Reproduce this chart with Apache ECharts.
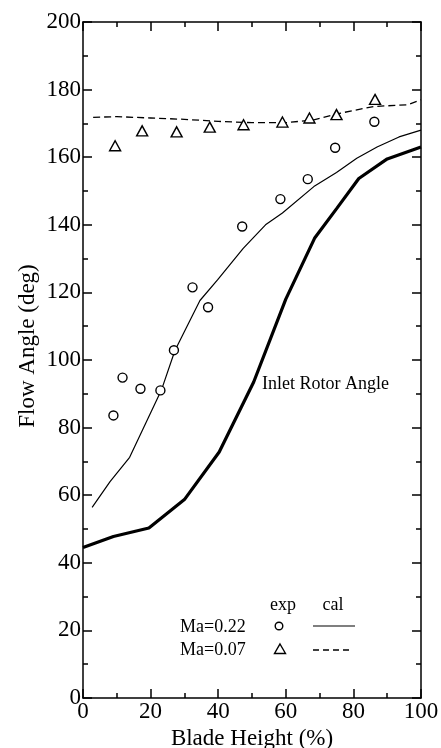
<!DOCTYPE html>
<html><head><meta charset="utf-8">
<script src="https://cdn.jsdelivr.net/npm/echarts@6/dist/echarts.min.js"></script>
<style>html,body{margin:0;padding:0;background:#fff}#c{width:441px;height:748px}</style>
</head><body><div id="c"></div>
<script>
const FONT = 'Liberation Serif';
const xMin = 0, xMax = 100, xStep = 20;
const yMin = 0, yMax = 200, yStep = 20;
const xTitle = 'Blade Height (%)';
const yTitle = 'Flow Angle (deg)';
// experimental points [blade height %, flow angle deg]
const expMa022 = [[9,83.6],[11.7,94.8],[17,91.5],[22.9,91],[26.9,102.9],[32.4,121.5],[37,115.6],[47.1,139.5],[58.4,147.6],[66.5,153.5],[74.6,162.8],[86.2,170.5]];
const expMa007 = [[9.5,163.4],[17.5,167.8],[27.7,167.5],[37.5,168.9],[47.5,169.6],[59,170.4],[67,171.6],[75,172.6],[86.4,177.1]];
// calculated curves
const calMa022 = [[2.7,56.4],[8,64],[13.8,71.2],[23.2,91.1],[27.2,102.8],[34.6,117.6],[39.8,123.7],[47.4,133],[54,140],[59,143.5],[68.3,151.3],[75,155.5],[81,159.7],[87,163],[93.5,166],[100,168]];
const calMa007 = [[3,171.8],[10,172],[20,171.6],[30,171.2],[40,170.6],[50,170.2],[60,170.2],[68,171],[76,173],[86,175],[96,175.5],[100,177]];
const inletRotorAngle = [[0,44.5],[9,47.8],[19.5,50.3],[30,58.7],[40.3,72.8],[50.5,93.5],[60,118],[68.5,136],[75.2,145],[81.6,153.7],[90,159.5],[100,163]];
const curveLabel = 'Inlet Rotor Angle';
const legendRows = ['Ma=0.22','Ma=0.07'];
const legendCols = ['exp','cal'];

const axisCommon = {
  type:'value', splitLine:{show:false},
  axisLine:{show:true, onZero:false, lineStyle:{color:'#000', width:1.5}},
  axisTick:{show:true, inside:true, length:9, lineStyle:{color:'#000', width:1.5}},
  minorTick:{show:true, splitNumber:2, length:5, lineStyle:{color:'#000', width:1.5}},
  minorSplitLine:{show:false}
};
const labelStyle = {color:'#000', fontFamily:FONT, fontSize:23};
const chart = echarts.init(document.getElementById('c'));
chart.setOption({
  animation:false,
  backgroundColor:'#fff',
  grid:{left:83, right:20, top:22, bottom:50, containLabel:false, outerBoundsMode:'none'},
  xAxis:[
    Object.assign({}, axisCommon, {min:xMin, max:xMax, interval:xStep, position:'bottom',
      axisLabel:Object.assign({margin:2}, labelStyle),
      name:xTitle, nameLocation:'middle', nameGap:28, nameTextStyle:Object.assign({}, labelStyle)}),
    Object.assign({}, axisCommon, {min:xMin, max:xMax, interval:xStep, position:'top', axisLabel:{show:false}})
  ],
  yAxis:[
    Object.assign({}, axisCommon, {min:yMin, max:yMax, interval:yStep, position:'left',
      axisLabel:Object.assign({margin:2}, labelStyle)}),
    Object.assign({}, axisCommon, {min:yMin, max:yMax, interval:yStep, position:'right', axisLabel:{show:false}})
  ],
  series:[
    {type:'line', data:inletRotorAngle, showSymbol:false, symbol:'none', lineStyle:{color:'#000', width:3.2}, z:2},
    {type:'line', data:calMa022, showSymbol:false, symbol:'none', lineStyle:{color:'#000', width:1.2}, z:2},
    {type:'line', data:calMa007, showSymbol:false, symbol:'none', lineStyle:{color:'#000', width:1.3, type:[7,4]}, z:2},
    {type:'scatter', data:expMa022, symbol:'circle', symbolSize:9, itemStyle:{color:'#fff', borderColor:'#000', borderWidth:1.4, opacity:1}, z:5},
    {type:'scatter', data:expMa007, symbol:'triangle', symbolSize:[11,10], itemStyle:{color:'#fff', borderColor:'#000', borderWidth:1.4, opacity:1}, z:5}
  ],
  graphic:[
    {type:'text', x:28, y:346, rotation:Math.PI/2, style:{text:yTitle, fontFamily:FONT, fontSize:23, fill:'#000', align:'center', verticalAlign:'middle'}},
    {type:'text', x:262, y:384, style:{text:curveLabel, fontFamily:FONT, fontSize:18, fill:'#000', align:'left', verticalAlign:'middle'}},
    {type:'text', x:283, y:605, style:{text:legendCols[0], fontFamily:FONT, fontSize:18, fill:'#000', align:'center', verticalAlign:'middle'}},
    {type:'text', x:333, y:605, style:{text:legendCols[1], fontFamily:FONT, fontSize:18, fill:'#000', align:'center', verticalAlign:'middle'}},
    {type:'text', x:180, y:627, style:{text:legendRows[0], fontFamily:FONT, fontSize:18, fill:'#000', align:'left', verticalAlign:'middle'}},
    {type:'text', x:180, y:650, style:{text:legendRows[1], fontFamily:FONT, fontSize:18, fill:'#000', align:'left', verticalAlign:'middle'}},
    {type:'circle', shape:{cx:279, cy:626, r:3.8}, style:{fill:'#fff', stroke:'#000', lineWidth:1.4}},
    {type:'polygon', shape:{points:[[280,644],[285.5,653.5],[274.5,653.5]]}, style:{fill:'#fff', stroke:'#000', lineWidth:1.4}},
    {type:'line', shape:{x1:313, y1:626, x2:355, y2:626}, style:{stroke:'#000', lineWidth:1.2}},
    {type:'line', shape:{x1:313, y1:650, x2:351, y2:650}, style:{stroke:'#000', lineWidth:1.3, lineDash:[6,4]}}
  ]
});
</script></body></html>
